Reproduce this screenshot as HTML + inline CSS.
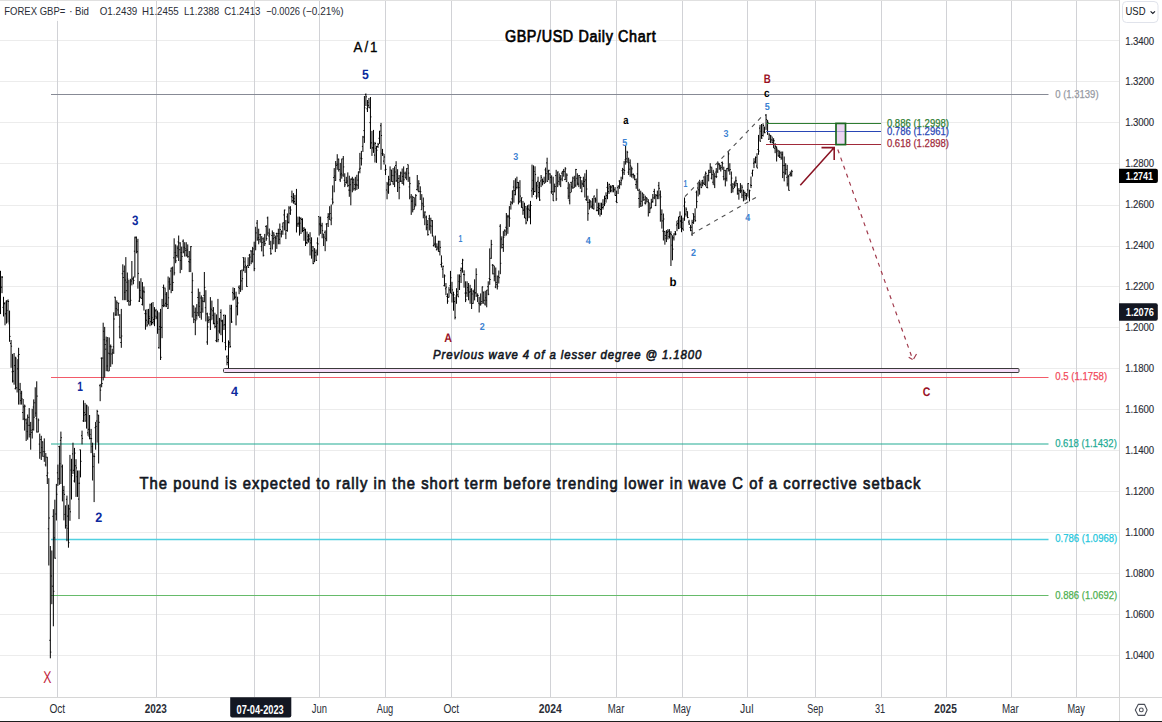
<!DOCTYPE html>
<html><head><meta charset="utf-8"><title>GBP/USD Daily Chart</title>
<style>html,body{margin:0;padding:0;background:#fff;width:1162px;height:722px;overflow:hidden}svg{display:block}text{font-family:"Liberation Sans",sans-serif}</style>
</head><body>
<svg width="1162" height="722" viewBox="0 0 1162 722" font-family='"Liberation Sans", sans-serif'><path d="M0 40.5H1119M0 81.5H1119M0 122.5H1119M0 163.5H1119M0 205.5H1119M0 246.5H1119M0 286.5H1119M0 327.5H1119M0 368.5H1119M0 409.5H1119M0 450.5H1119M0 491.5H1119M0 532.5H1119M0 573.5H1119M0 614.5H1119M0 655.5H1119" stroke="#ececec" stroke-width="1" fill="none"/>
<path d="M57.5 0V697M156.5 0V697M254.5 0V697M319.5 0V697M385.5 0V697M451.5 0V697M550.5 0V697M616.5 0V697M682.5 0V697M747.5 0V697M815.5 0V697M881.5 0V697M946.5 0V697M1011.5 0V697M1076.5 0V697" stroke="#d1d2d6" stroke-width="1" fill="none"/>
<path d="M0 0.5H1119" stroke="#e0e0e0" stroke-width="1"/>
<path d="M51 94.5H1048.5" stroke="#878a95" stroke-width="1.15"/>
<path d="M51 377.5H1048.5" stroke="#f35a69" stroke-width="1.15"/>
<path d="M51 444H1048.5" stroke="#22ab94" stroke-width="1.1"/>
<path d="M51 539.5H1048.5" stroke="#50d0e0" stroke-width="1.5"/>
<path d="M51 595.5H1048.5" stroke="#66bb6a" stroke-width="1.15"/>
<path d="M0.50 270.8V314.1M-0.50 284.8H0.50M0.50 277.3H1.50M2.01 276.0V293.2M1.01 287.2H2.01M2.01 277.2H3.01M3.52 296.8V316.5M2.52 307.4H3.52M3.52 304.0H4.52M5.03 302.0V325.3M4.03 303.4H5.03M5.03 313.8H6.03M6.54 300.3V323.6M5.54 301.2H6.54M6.54 310.4H7.54M8.05 299.4V322.7M7.05 301.0H8.05M8.05 301.5H9.05M9.56 310.6V341.8M8.56 323.8H9.56M9.56 336.4H10.56M11.07 340.0V367.8M10.07 343.4H11.07M11.07 346.2H12.07M12.58 353.9V382.5M11.58 371.8H12.58M12.58 381.0H13.58M14.09 353.0V384.7M13.09 371.3H14.09M14.09 365.6H15.09M15.60 356.7V389.4M14.60 388.7H15.60M15.60 358.2H16.60M17.11 359.1V392.5M16.11 387.8H17.11M17.11 368.8H18.11M18.62 347.8V404.6M17.62 356.0H18.62M18.62 354.5H19.62M20.13 382.9V404.6M19.13 389.6H20.13M20.13 400.6H21.13M21.64 390.8V404.6M20.64 393.3H21.64M21.64 398.8H22.64M23.15 399.0V420.1M22.15 412.5H23.15M23.15 406.9H24.15M24.66 404.6V430.6M23.66 418.8H24.66M24.66 406.2H25.66M26.17 418.5V441.0M25.17 419.8H26.17M26.17 423.1H27.17M27.68 414.5V439.7M26.68 431.6H27.68M27.68 425.3H28.68M29.19 408.1V437.5M28.19 417.3H29.19M29.19 425.3H30.19M30.70 421.9V449.7M29.70 434.5H30.70M30.70 430.2H31.70M32.21 408.7V438.5M31.21 432.4H32.21M32.21 429.5H33.21M33.72 399.4V430.6M32.72 407.0H33.72M33.72 417.3H34.72M35.23 387.3V416.8M34.23 402.8H35.23M35.23 413.1H36.23M36.74 381.3V432.6M35.74 418.7H36.74M36.74 396.1H37.74M38.25 418.5V432.3M37.25 432.0H38.25M38.25 420.1H39.25M39.76 433.6V458.8M38.76 444.1H39.76M39.76 452.7H40.76M41.27 435.8V460.0M40.27 439.5H41.27M41.27 447.6H42.27M42.78 441.3V456.8M41.78 441.9H42.78M42.78 451.7H43.78M44.29 438.4V461.8M43.29 456.3H44.29M44.29 451.8H45.29M45.80 453.0V466.5M44.80 464.8H45.80M45.80 457.2H46.80M47.31 456.8V484.0M46.31 475.7H47.31M47.31 473.0H48.31M48.82 478.2V565.5M47.82 528.8H48.82M48.82 518.0H49.82M50.33 546.0V658.3M49.33 640.3H50.33M50.33 652.1H51.33M51.84 550.5V604.2M50.84 576.0H51.84M51.84 586.2H52.84M53.35 509.2V626.3M52.35 516.3H53.35M53.35 591.3H54.35M54.86 499.7V558.6M53.86 537.8H54.86M54.86 558.2H55.86M56.37 483.9V520.5M55.37 514.0H56.37M56.37 494.3H57.37M57.88 464.6V485.9M56.88 472.8H57.88M57.88 478.8H58.88M59.39 445.7V484.8M58.39 446.6H59.39M59.39 463.7H60.39M60.90 431.6V484.0M59.90 440.4H60.90M60.90 437.7H61.90M62.41 464.6V501.4M61.41 466.8H62.41M62.41 492.9H63.41M63.92 485.9V520.4M62.92 490.4H63.92M63.92 494.4H64.92M65.43 505.3V528.6M64.43 514.4H65.43M65.43 525.6H66.43M66.94 495.6V541.2M65.94 499.3H66.94M66.94 516.1H67.94M68.45 504.7V547.7M67.45 528.3H68.45M68.45 542.7H69.45M69.96 454.9V520.8M68.96 508.9H69.96M69.96 511.8H70.96M71.47 458.8V499.5M70.47 470.1H71.47M71.47 475.7H72.47M72.98 442.7V473.9M71.98 453.9H72.98M72.98 470.3H73.98M74.49 447.9V482.5M73.49 481.0H74.49M74.49 453.1H75.49M76.00 459.2V496.9M75.00 465.8H76.00M76.00 467.9H77.00M77.51 470.5V496.9M76.51 476.7H77.51M77.51 483.3H78.51M79.02 470.4V519.1M78.02 499.1H79.02M79.02 483.2H80.02M80.53 449.7V477.4M79.53 449.8H80.53M80.53 461.3H81.53M82.04 430.6V444.4M81.04 435.7H82.04M82.04 438.4H83.04M83.55 400.3V421.9M82.55 420.9H83.55M83.55 415.2H84.55M85.06 402.9V421.9M84.06 412.7H85.06M85.06 414.6H86.06M86.57 404.6V428.6M85.57 420.8H86.57M86.57 405.9H87.57M88.08 406.4V435.8M87.08 432.8H88.08M88.08 429.3H89.08M89.59 415.0V439.3M88.59 436.3H89.59M89.59 434.4H90.59M91.10 428.9V453.1M90.10 438.4H91.10M91.10 438.6H92.10M92.61 442.7V480.5M91.61 446.6H92.61M92.61 466.7H93.61M94.12 453.1V502.1M93.12 456.2H94.12M94.12 456.4H95.12M95.63 421.9V449.7M94.63 427.7H95.63M95.63 426.4H96.63M97.14 409.8V442.7M96.14 421.0H97.14M97.14 411.5H98.14M98.65 415.0V463.5M97.65 415.0H98.65M98.65 422.3H99.65M100.16 383.9V401.2M99.16 385.7H100.16M100.16 390.2H101.16M101.67 357.4V387.3M100.67 358.2H101.67M101.67 383.5H102.67M103.18 322.7V380.4M102.18 358.1H103.18M103.18 331.3H104.18M104.69 326.9V377.6M103.69 339.7H104.69M104.69 344.5H105.69M106.20 336.6V371.2M105.20 349.2H106.20M106.20 340.9H107.20M107.71 337.0V371.2M106.71 366.0H107.71M107.71 371.0H108.71M109.22 337.5V371.2M108.22 353.2H109.22M109.22 353.8H110.22M110.73 344.5V366.9M109.73 346.4H110.73M110.73 346.8H111.73M112.24 348.7V364.3M111.24 354.0H112.24M112.24 352.8H113.24M113.75 312.3V353.9M112.75 346.8H113.75M113.75 319.0H114.75M115.26 296.8V315.8M114.26 297.2H115.26M115.26 314.9H116.26M116.77 300.4V315.8M115.77 308.5H116.77M116.77 302.7H117.77M118.28 302.8V315.8M117.28 309.9H118.28M118.28 303.2H119.28M119.79 314.1V338.3M118.79 326.9H119.79M119.79 337.8H120.79M121.30 308.9V347.8M120.30 342.5H121.30M121.30 336.0H122.30M122.81 264.3V300.2M121.81 273.7H122.81M122.81 277.5H123.81M124.32 265.5V300.2M123.32 271.3H124.32M124.32 292.3H125.32M125.83 257.1V300.2M124.83 280.1H125.83M125.83 290.7H126.83M127.34 272.5V302.0M126.34 282.2H127.34M127.34 279.1H128.34M128.85 279.9V305.5M127.85 300.7H128.85M128.85 305.1H129.85M130.36 278.8V305.5M129.36 301.6H130.36M130.36 300.3H131.36M131.87 261.0V285.4M130.87 281.0H131.87M131.87 279.1H132.87M133.38 276.5V284.3M132.38 278.3H133.38M133.38 280.5H134.38M134.89 236.6V277.6M133.89 251.2H134.89M134.89 237.8H135.89M136.40 236.6V253.3M135.40 237.1H136.40M136.40 241.3H137.40M137.91 238.8V288.7M136.91 251.7H137.91M137.91 273.4H138.91M139.42 281.2V302.0M138.42 301.1H139.42M139.42 290.5H140.42M140.93 278.2V298.5M139.93 297.2H140.93M140.93 298.3H141.93M142.44 282.1V305.5M141.44 304.4H142.44M142.44 290.6H143.44M143.95 286.5V310.6M142.95 291.8H143.95M143.95 292.0H144.95M145.46 309.7V329.7M144.46 313.6H145.46M145.46 313.8H146.46M146.97 309.2V326.8M145.97 320.2H146.97M146.97 325.0H147.97M148.48 308.9V324.5M147.48 322.0H148.48M148.48 316.4H149.48M149.99 303.7V326.2M148.99 318.4H149.99M149.99 321.7H150.99M151.50 302.8V325.3M150.50 304.8H151.50M151.50 317.7H152.50M153.01 302.0V324.5M152.01 322.5H153.01M153.01 319.6H154.01M154.52 307.1V326.2M153.52 321.4H154.52M154.52 316.2H155.52M156.03 308.9V319.3M155.03 310.8H156.03M156.03 317.1H157.03M157.54 310.6V333.8M156.54 318.3H157.54M157.54 329.2H158.54M159.05 312.3V348.7M158.05 347.7H159.05M159.05 326.7H160.05M160.56 308.9V360.0M159.56 329.4H160.56M160.56 357.3H161.56M162.07 298.9V338.2M161.07 327.4H162.07M162.07 305.6H163.07M163.58 284.6V307.1M162.58 287.5H163.58M163.58 288.0H164.58M165.09 287.6V307.1M164.09 305.2H165.09M165.09 303.3H166.09M166.60 292.1V307.1M165.60 294.3H166.60M166.60 304.5H167.60M168.11 276.5V308.9M167.11 308.3H168.11M168.11 297.8H169.11M169.62 277.6V289.8M168.62 281.9H169.62M169.62 284.3H170.62M171.13 267.7V293.2M170.13 271.0H171.13M171.13 268.1H172.13M172.64 266.6V291.0M171.64 290.3H172.64M172.64 282.5H173.64M174.15 238.3V275.4M173.15 257.8H174.15M174.15 272.9H175.15M175.66 244.4V263.2M174.66 252.6H175.66M175.66 260.8H176.66M177.17 245.5V257.7M176.17 255.6H177.17M177.17 248.1H178.17M178.68 235.5V261.0M177.68 241.9H178.68M178.68 243.0H179.68M180.19 242.2V273.2M179.19 249.7H180.19M180.19 260.4H181.19M181.70 246.6V269.9M180.70 252.6H181.70M181.70 256.4H182.70M183.21 239.4V253.3M182.21 241.2H183.21M183.21 252.0H184.21M184.72 242.2V256.6M183.72 247.3H184.72M184.72 248.8H185.72M186.23 242.2V256.6M185.23 250.6H186.23M186.23 255.2H187.23M187.74 244.4V257.7M186.74 250.0H187.74M187.74 256.6H188.74M189.25 251.0V272.1M188.25 261.6H189.25M189.25 262.2H190.25M190.76 246.1V272.1M189.76 259.7H190.76M190.76 246.6H191.76M192.27 272.5V317.5M191.27 292.3H192.27M192.27 280.7H193.27M193.78 305.8V323.1M192.78 305.9H193.78M193.78 319.6H194.78M195.29 307.5V335.2M194.29 312.3H195.29M195.29 320.6H196.29M196.80 304.1V319.7M195.80 315.4H196.80M196.80 312.8H197.80M198.31 288.5V316.2M197.31 297.5H198.31M198.31 302.9H199.31M199.82 291.8V317.9M198.82 306.3H199.82M199.82 312.3H200.82M201.33 295.4V319.7M200.33 298.0H201.33M201.33 309.0H202.33M202.84 297.1V312.7M201.84 301.0H202.84M202.84 301.4H203.84M204.35 272.0V302.3M203.35 295.4H204.35M204.35 287.4H205.35M205.86 290.2V321.4M204.86 307.7H205.86M205.86 313.9H206.86M207.37 312.7V344.8M206.37 342.0H207.37M207.37 326.9H208.37M208.88 316.2V323.1M207.88 320.4H208.88M208.88 319.7H209.88M210.39 297.1V330.0M209.39 314.0H210.39M210.39 319.9H211.39M211.90 300.6V319.7M210.90 309.2H211.90M211.90 310.8H212.90M213.41 307.1V324.3M212.41 315.3H213.41M213.41 323.3H214.41M214.92 312.7V328.3M213.92 323.6H214.92M214.92 326.4H215.92M216.43 314.4V342.2M215.43 340.6H216.43M216.43 321.6H217.43M217.94 298.9V342.2M216.94 323.1H217.94M217.94 339.7H218.94M219.45 317.9V333.5M218.45 331.0H219.45M219.45 320.0H220.45M220.96 309.3V335.2M219.96 312.5H220.96M220.96 320.8H221.96M222.47 319.7V342.2M221.47 321.3H222.47M222.47 325.1H223.47M223.98 314.4V330.0M222.98 315.5H223.98M223.98 324.8H224.98M225.49 314.8V350.3M224.49 342.6H225.49M225.49 346.6H226.49M227.00 355.3V365.3M226.00 356.8H227.00M227.00 362.5H228.00M228.51 340.4V368.0M227.51 358.6H228.51M228.51 344.3H229.51M230.02 304.8V347.8M229.02 342.8H230.02M230.02 346.4H231.02M231.53 304.8V322.9M230.53 308.8H231.53M231.53 322.0H232.53M233.04 287.4V300.5M232.04 292.6H233.04M233.04 293.8H234.04M234.55 288.0V299.2M233.55 299.1H234.55M234.55 297.3H235.55M236.06 291.7V325.4M235.06 297.1H236.06M236.06 306.2H237.06M237.57 296.7V315.4M236.57 306.3H237.57M237.57 303.0H238.57M239.08 285.5V294.2M238.08 287.2H239.08M239.08 288.3H240.08M240.59 270.3V291.9M239.59 285.9H240.59M240.59 270.7H241.59M242.10 269.4V290.2M241.10 280.9H242.10M242.10 278.6H243.10M243.61 257.3V271.2M242.61 257.6H243.61M243.61 261.9H244.61M245.12 257.3V272.9M244.12 267.0H245.12M245.12 265.3H246.12M246.63 266.0V286.8M245.63 267.3H246.63M246.63 286.5H247.63M248.14 257.3V267.7M247.14 265.5H248.14M248.14 267.4H249.14M249.65 253.9V266.0M248.65 255.2H249.65M249.65 257.1H250.65M251.16 250.4V264.2M250.16 250.9H251.16M251.16 261.2H252.16M252.67 246.9V262.5M251.67 251.1H252.67M252.67 248.9H253.67M254.18 241.7V271.2M253.18 254.2H254.18M254.18 268.6H255.18M255.69 226.8V250.3M254.69 246.1H255.69M255.69 232.9H256.69M257.20 220.0V240.8M256.20 223.1H257.20M257.20 239.1H258.20M258.71 228.7V244.3M257.71 237.6H258.71M258.71 239.6H259.71M260.22 233.9V242.6M259.22 234.7H260.22M260.22 234.4H261.22M261.73 236.1V251.4M260.73 246.6H261.73M261.73 242.6H262.73M263.24 237.4V256.5M262.24 238.8H263.24M263.24 255.3H264.24M264.75 233.9V246.0M263.75 241.6H264.75M264.75 243.6H265.75M266.26 225.2V240.8M265.26 226.5H266.26M266.26 238.6H267.26M267.77 216.6V235.6M266.77 217.9H267.77M267.77 233.0H268.77M269.28 228.5V245.0M268.28 236.0H269.28M269.28 234.1H270.28M270.79 240.8V254.7M269.79 248.5H270.79M270.79 253.7H271.79M272.30 230.4V249.5M271.30 235.5H272.30M272.30 232.9H273.30M273.81 232.2V244.3M272.81 238.6H273.81M273.81 235.1H274.81M275.32 235.6V252.1M274.32 237.4H275.32M275.32 238.3H276.32M276.83 232.7V248.9M275.83 233.5H276.83M276.83 236.0H277.83M278.34 228.7V244.3M277.34 233.6H278.34M278.34 233.5H279.34M279.85 223.5V244.3M278.85 239.3H279.85M279.85 229.5H280.85M281.36 230.4V237.4M280.36 233.9H281.36M281.36 231.6H282.36M282.87 222.6V234.8M281.87 226.8H282.87M282.87 222.8H283.87M284.38 209.7V230.4M283.38 214.9H284.38M284.38 210.0H285.38M285.89 220.0V239.1M284.89 234.0H285.89M285.89 230.5H286.89M287.40 213.4V231.7M286.40 216.9H287.40M287.40 222.1H288.40M288.91 206.2V223.5M287.91 222.4H288.91M288.91 208.0H289.91M290.42 206.2V214.9M289.42 213.3H290.42M290.42 210.0H291.42M291.93 190.6V202.7M290.93 196.6H291.93M291.93 200.7H292.93M293.44 193.1V203.7M292.44 197.3H293.44M293.44 198.5H294.44M294.95 194.9V204.5M293.95 201.5H294.95M294.95 204.3H295.95M296.46 188.9V232.5M295.46 203.8H296.46M296.46 225.2H297.46M297.97 216.6V227.0M296.97 223.9H297.97M297.97 223.2H298.97M299.48 216.6V235.6M298.48 224.3H299.48M299.48 223.2H300.48M300.99 217.4V234.0M299.99 218.3H300.99M300.99 219.5H301.99M302.50 218.3V232.2M301.50 219.3H302.50M302.50 228.6H303.50M304.01 227.0V240.8M303.01 230.5H304.01M304.01 229.3H305.01M305.52 228.7V246.0M304.52 230.2H305.52M305.52 243.3H306.52M307.03 231.6V244.1M306.03 242.5H307.03M307.03 240.0H308.03M308.54 233.9V242.6M307.54 236.4H308.54M308.54 236.0H309.54M310.05 232.2V255.5M309.05 239.0H310.05M310.05 242.9H311.05M311.56 237.3V258.7M310.56 240.7H311.56M311.56 246.8H312.56M313.07 246.0V264.2M312.07 250.8H313.07M313.07 263.5H314.07M314.58 248.1V262.2M313.58 261.8H314.58M314.58 255.8H315.58M316.09 249.5V260.8M315.09 252.3H316.09M316.09 260.4H317.09M317.60 237.4V255.5M316.60 243.0H317.60M317.60 243.9H318.60M319.11 216.6V235.6M318.11 216.6H319.11M319.11 223.9H320.11M320.62 216.6V233.9M319.62 224.8H320.62M320.62 225.3H321.62M322.13 222.8V238.3M321.13 225.9H322.13M322.13 230.6H323.13M323.64 233.9V246.0M322.64 234.0H323.64M323.64 237.1H324.64M325.15 230.4V251.2M324.15 232.3H325.15M325.15 238.7H326.15M326.66 223.3V241.3M325.66 224.1H326.66M326.66 223.7H327.66M328.17 213.1V227.0M327.17 217.3H328.17M328.17 216.3H329.17M329.68 206.2V220.0M328.68 214.3H329.68M329.68 213.5H330.68M331.19 204.5V225.2M330.19 220.0H331.19M331.19 218.1H332.19M332.70 185.4V204.5M331.70 199.1H332.70M332.70 202.2H333.70M334.21 168.1V192.3M333.21 177.5H334.21M334.21 176.0H335.21M335.72 161.0V180.8M334.72 180.5H335.72M335.72 164.0H336.72M337.23 154.2V169.8M336.23 165.5H337.23M337.23 164.2H338.23M338.74 158.6V171.6M337.74 159.2H338.74M338.74 169.5H339.74M340.25 162.9V181.9M339.25 179.8H340.25M340.25 174.8H341.25M341.76 158.6V178.7M340.76 173.4H341.76M341.76 175.0H342.76M343.27 156.0V176.8M342.27 158.9H343.27M343.27 166.9H344.27M344.78 173.3V187.1M343.78 180.3H344.78M344.78 184.8H345.78M346.29 176.8V183.7M345.29 182.4H346.29M346.29 182.5H347.29M347.80 172.4V187.1M346.80 181.0H347.80M347.80 185.5H348.80M349.31 175.7V196.8M348.31 190.1H349.31M349.31 190.3H350.31M350.82 178.5V205.3M349.82 184.7H350.82M350.82 179.3H351.82M352.33 176.8V192.3M351.33 178.9H352.33M352.33 182.4H353.33M353.84 178.5V190.6M352.84 179.8H353.84M353.84 188.6H354.84M355.35 176.8V190.6M354.35 184.5H355.35M355.35 185.5H356.35M356.86 174.8V189.9M355.86 184.3H356.86M356.86 185.1H357.86M358.37 171.6V188.9M357.37 180.1H358.37M358.37 171.7H359.37M359.88 152.9V173.3M358.88 169.2H359.88M359.88 168.2H360.88M361.39 150.9V165.5M360.39 158.2H361.39M361.39 158.7H362.39M362.90 135.9V151.9M361.90 146.4H362.90M362.90 137.0H363.90M364.41 96.0V142.9M363.41 130.6H364.41M364.41 107.8H365.41M365.92 93.5V106.0M364.92 94.4H365.92M365.92 96.8H366.92M367.43 100.0V112.0M366.43 108.8H367.43M367.43 102.5H368.43M368.94 98.0V108.0M367.94 105.4H368.94M368.94 107.8H369.94M370.45 97.0V148.9M369.45 122.6H370.45M370.45 116.9H371.45M371.96 130.9V155.9M370.96 142.9H371.96M371.96 148.0H372.96M373.47 129.9V152.9M372.47 147.5H373.47M373.47 144.1H374.47M374.98 141.9V162.5M373.98 155.1H374.98M374.98 143.5H375.98M376.49 145.9V162.9M375.49 148.4H376.49M376.49 150.2H377.49M378.00 142.9V147.9M377.00 146.6H378.00M378.00 144.4H379.00M379.51 130.9V143.9M378.51 138.3H379.51M379.51 131.1H380.51M381.02 122.9V169.8M380.02 125.7H381.02M381.02 135.5H382.02M382.53 148.9V155.9M381.53 153.6H382.53M382.53 153.7H383.53M384.04 153.9V164.6M383.04 161.1H384.04M384.04 157.0H385.04M385.55 164.6V175.0M384.55 170.0H385.55M385.55 169.4H386.55M387.06 181.9V199.3M386.06 190.0H387.06M387.06 184.0H388.06M388.57 175.8V193.8M387.57 191.9H388.57M388.57 179.4H389.57M390.08 166.4V185.4M389.08 185.0H390.08M390.08 184.2H391.08M391.59 169.8V181.9M390.59 170.0H391.59M391.59 175.4H392.59M393.10 168.0V184.6M392.10 181.6H393.10M393.10 184.1H394.10M394.61 166.4V187.1M393.61 175.7H394.61M394.61 172.0H395.61M396.12 161.2V181.9M395.12 165.5H396.12M396.12 180.8H397.12M397.63 169.2V192.0M396.63 174.0H397.63M397.63 182.4H398.63M399.14 175.0V199.3M398.14 178.4H399.14M399.14 187.7H400.14M400.65 171.6V181.9M399.65 181.4H400.65M400.65 173.0H401.65M402.16 168.5V184.0M401.16 181.2H402.16M402.16 176.4H403.16M403.67 166.4V185.4M402.67 183.3H403.67M403.67 179.8H404.67M405.18 171.6V178.5M404.18 173.2H405.18M405.18 177.8H406.18M406.69 168.1V180.2M405.69 174.0H406.69M406.69 168.4H407.69M408.20 164.6V181.9M407.20 164.7H408.20M408.20 173.1H409.20M409.71 176.8V199.3M408.71 186.9H409.71M409.71 183.6H410.71M411.22 194.1V214.9M410.22 197.0H411.22M411.22 201.3H412.22M412.73 195.8V212.4M411.73 201.0H412.73M412.73 209.7H413.73M414.24 197.5V209.7M413.24 197.5H414.24M414.24 206.7H415.24M415.75 194.1V206.2M414.75 204.3H415.75M415.75 195.6H416.75M417.26 175.0V190.6M416.26 189.5H417.26M417.26 186.1H418.26M418.77 180.2V192.3M417.77 191.1H418.77M418.77 183.7H419.77M420.28 186.3V200.0M419.28 191.4H420.28M420.28 191.7H421.28M421.79 194.1V209.7M420.79 209.7H421.79M421.79 203.3H422.79M423.30 197.5V218.3M422.30 205.0H423.30M423.30 206.4H424.30M424.81 211.4V225.2M423.81 215.2H424.81M424.81 212.1H425.81M426.32 215.6V230.3M425.32 217.1H426.32M426.32 227.8H427.32M427.83 220.0V235.6M426.83 224.5H427.83M427.83 234.6H428.83M429.34 214.9V230.4M428.34 218.8H429.34M429.34 219.0H430.34M430.85 217.7V233.7M429.85 225.9H430.85M430.85 220.7H431.85M432.36 220.0V236.5M431.36 226.2H432.36M432.36 235.8H433.36M433.87 236.3V246.7M432.87 245.5H433.87M433.87 244.7H434.87M435.38 235.6V247.8M434.38 243.3H435.38M435.38 246.7H436.38M436.89 243.3V250.2M435.89 249.8H436.89M436.89 247.1H437.89M438.40 240.8V251.9M437.40 248.8H438.40M438.40 241.3H439.40M439.91 240.8V255.5M438.91 251.6H439.91M439.91 247.4H440.91M441.42 255.4V267.5M440.42 264.5H441.42M441.42 263.2H442.42M442.93 265.7V277.9M441.93 269.2H442.93M442.93 266.3H443.93M444.44 274.4V286.5M443.44 285.6H444.44M444.44 275.9H445.44M445.95 283.0V295.2M444.95 288.8H445.95M445.95 287.2H446.95M447.46 293.4V303.8M446.46 296.5H447.46M447.46 301.1H448.46M448.97 287.1V297.5M447.97 297.3H448.97M448.97 289.9H449.97M450.48 270.9V293.4M449.48 285.7H450.48M450.48 277.7H451.48M451.99 281.8V302.5M450.99 293.3H451.99M451.99 289.9H452.99M453.50 291.7V310.7M452.50 294.9H453.50M453.50 294.8H454.50M455.01 296.9V319.4M454.01 301.6H455.01M455.01 317.3H456.01M456.52 288.2V303.8M455.52 296.0H456.52M456.52 291.6H457.52M458.03 274.4V296.9M457.03 294.8H458.03M458.03 296.8H459.03M459.54 274.4V290.0M458.54 281.4H459.54M459.54 276.6H460.54M461.05 267.5V283.0M460.05 270.5H461.05M461.05 268.9H462.05M462.56 258.8V272.7M461.56 263.6H462.56M462.56 260.1H463.56M464.07 270.3V287.7M463.07 274.5H464.07M464.07 274.8H465.07M465.58 281.3V302.1M464.58 293.1H465.58M465.58 299.8H466.58M467.09 281.3V296.9M466.09 293.0H467.09M467.09 287.7H468.09M468.60 283.0V300.3M467.60 290.2H468.60M468.60 292.1H469.60M470.11 284.8V303.8M469.11 292.0H470.11M470.11 291.2H471.11M471.62 288.2V309.0M470.62 289.5H471.62M471.62 294.0H472.62M473.13 290.0V303.8M472.13 303.4H473.13M473.13 291.7H474.13M474.64 279.3V300.4M473.64 289.9H474.64M474.64 292.6H475.64M476.15 268.3V296.9M475.15 293.0H476.15M476.15 274.5H477.15M477.66 293.4V302.1M476.66 295.8H477.66M477.66 295.6H478.66M479.17 296.9V312.5M478.17 303.1H479.17M479.17 303.9H480.17M480.68 293.4V305.5M479.68 304.9H480.68M480.68 303.7H481.68M482.19 286.5V303.8M481.19 301.6H482.19M482.19 286.9H483.19M483.70 291.7V303.8M482.70 292.1H483.70M483.70 300.3H484.70M485.21 290.8V305.6M484.21 304.0H485.21M485.21 297.8H486.21M486.72 290.0V307.3M485.72 300.2H486.72M486.72 290.0H487.72M488.23 281.3V295.2M487.23 286.7H488.23M488.23 294.2H489.23M489.74 248.4V284.8M488.74 278.5H489.74M489.74 279.5H490.74M491.25 239.8V258.8M490.25 258.3H491.25M491.25 244.5H492.25M492.76 264.0V274.4M491.76 265.1H492.76M492.76 265.6H493.76M494.27 265.7V281.3M493.27 273.8H494.27M494.27 276.3H495.27M495.78 267.5V288.2M494.78 287.0H495.78M495.78 282.4H496.78M497.29 275.5V289.5M496.29 284.6H497.29M497.29 286.2H498.29M498.80 270.5V283.5M497.80 276.4H498.80M498.80 277.7H499.80M500.31 224.2V274.2M499.31 226.2H500.31M500.31 263.3H501.31M501.82 236.3V248.5M500.82 239.1H501.82M501.82 247.5H502.82M503.33 231.1V251.9M502.33 244.5H503.33M503.33 237.4H504.33M504.84 229.4V236.3M503.84 230.3H504.84M504.84 231.1H505.84M506.35 213.0V235.5M505.35 227.3H506.35M506.35 228.7H507.35M507.86 214.8V233.8M506.86 216.9H507.86M507.86 216.1H508.86M509.37 206.1V226.9M508.37 217.0H509.37M509.37 218.2H510.37M510.88 200.9V209.6M509.88 204.3H510.88M510.88 202.8H511.88M512.39 190.6V204.4M511.39 198.9H512.39M512.39 190.7H513.39M513.90 180.2V202.7M512.90 187.0H513.90M513.90 190.6H514.90M515.41 178.3V195.3M514.41 194.6H515.41M515.41 189.2H516.41M516.92 176.7V188.8M515.92 187.4H516.92M516.92 182.5H517.92M518.43 181.9V204.4M517.43 187.2H518.43M518.43 187.5H519.43M519.94 180.2V202.7M518.94 201.8H519.94M519.94 196.1H520.94M521.45 197.5V207.9M520.45 200.7H521.45M521.45 197.7H522.45M522.96 200.9V214.8M521.96 207.8H522.96M522.96 210.3H523.96M524.47 202.7V218.2M523.47 209.2H524.47M524.47 206.7H525.47M525.98 206.1V224.3M524.98 218.2H525.98M525.98 222.9H526.98M527.49 205.3V221.3M526.49 208.9H527.49M527.49 205.8H528.49M529.00 204.4V218.2M528.00 209.1H529.00M529.00 210.2H530.00M530.51 200.9V224.3M529.51 216.9H530.51M530.51 205.5H531.51M532.02 164.6V197.5M531.02 190.8H532.02M532.02 188.9H533.02M533.53 165.4V195.0M532.53 180.3H533.53M533.53 171.5H534.53M535.04 166.3V192.3M534.04 191.5H535.04M535.04 174.4H536.04M536.55 181.9V199.2M535.55 196.1H536.55M536.55 185.9H537.55M538.06 176.7V197.5M537.06 181.3H538.06M538.06 192.5H539.06M539.57 181.9V200.9M538.57 187.5H539.57M539.57 200.0H540.57M541.08 175.0V187.1M540.08 181.0H541.08M541.08 177.3H542.08M542.59 178.5V185.4M541.59 180.0H542.59M542.59 181.4H543.59M544.10 176.7V183.6M543.10 181.3H544.10M544.10 183.2H545.10M545.61 167.6V182.8M544.61 169.9H545.61M545.61 173.6H546.61M547.12 157.7V181.9M546.12 162.9H547.12M547.12 181.3H548.12M548.63 169.8V180.2M547.63 171.3H548.63M548.63 170.3H549.63M550.14 173.3V183.6M549.14 173.9H550.14M550.14 177.4H551.14M551.65 175.3V193.8M550.65 191.9H551.65M551.65 191.6H552.65M553.16 176.7V200.9M552.16 194.4H553.16M553.16 200.8H554.16M554.67 183.6V192.3M553.67 191.7H554.67M554.67 186.5H555.67M556.18 169.8V200.9M555.18 175.6H556.18M556.18 198.9H557.18M557.69 171.5V187.1M556.69 183.1H557.69M557.69 172.0H558.69M559.20 173.3V185.4M558.20 181.3H559.20M559.20 177.9H560.20M560.71 175.0V187.1M559.71 179.5H560.71M560.71 179.0H561.71M562.22 171.5V181.2M561.22 173.2H562.22M562.22 171.6H563.22M563.73 168.9V176.7M562.73 171.1H563.73M563.73 171.6H564.73M565.24 167.2V180.2M564.24 179.6H565.24M565.24 168.8H566.24M566.75 173.3V181.9M565.75 181.6H566.75M566.75 175.1H567.75M568.26 181.9V199.2M567.26 188.1H568.26M568.26 196.1H569.26M569.77 183.6V204.4M568.77 200.7H569.77M569.77 192.6H570.77M571.28 181.9V192.3M570.28 182.4H571.28M571.28 186.8H572.28M572.79 176.7V188.8M571.79 181.2H572.79M572.79 187.8H573.79M574.30 175.8V187.9M573.30 178.1H574.30M574.30 180.2H575.30M575.81 168.9V187.1M574.81 185.2H575.81M575.81 169.5H576.81M577.32 173.3V185.4M576.32 178.3H577.32M577.32 183.1H578.32M578.83 175.0V187.1M577.83 184.2H578.83M578.83 175.5H579.83M580.34 176.7V188.8M579.34 177.1H580.34M580.34 177.5H581.34M581.85 180.2V192.3M580.85 191.3H581.85M581.85 183.3H582.85M583.36 176.7V187.1M582.36 184.5H583.36M583.36 186.0H584.36M584.87 173.3V197.5M583.87 181.5H584.87M584.87 179.9H585.87M586.38 169.8V200.9M585.38 199.6H586.38M586.38 189.0H587.38M587.89 195.7V220.8M586.89 202.3H587.89M587.89 213.7H588.89M589.40 199.2V209.6M588.40 202.5H589.40M589.40 202.1H590.40M590.91 200.9V207.9M589.91 200.9H590.91M590.91 206.2H591.91M592.42 198.1V208.8M591.42 207.9H592.42M592.42 204.9H593.42M593.93 195.7V209.6M592.93 208.8H593.93M593.93 196.0H594.93M595.44 197.5V202.7M594.44 198.7H595.44M595.44 200.0H596.44M596.95 188.8V211.3M595.95 210.3H596.95M596.95 210.3H597.95M598.46 202.7V214.8M597.46 207.4H598.46M598.46 205.7H599.46M599.97 202.7V216.5M598.97 208.6H599.97M599.97 209.5H600.97M601.48 202.7V214.8M600.48 213.9H601.48M601.48 204.9H602.48M602.99 199.2V209.6M601.99 207.5H602.99M602.99 206.9H603.99M604.50 195.7V206.1M603.50 204.3H604.50M604.50 203.7H605.50M606.01 192.3V202.7M605.01 198.6H606.01M606.01 195.7H607.01M607.52 181.9V199.2M606.52 187.4H607.52M607.52 188.2H608.52M609.03 183.6V194.0M608.03 191.7H609.03M609.03 184.4H610.03M610.54 185.4V192.3M609.54 186.8H610.54M610.54 190.6H611.54M612.05 185.4V192.3M611.05 187.1H612.05M612.05 185.8H613.05M613.56 185.4V192.3M612.56 185.6H613.56M613.56 189.2H614.56M615.07 187.1V195.7M614.07 189.9H615.07M615.07 195.5H616.07M616.58 190.6V202.7M615.58 201.3H616.58M616.58 202.6H617.58M618.09 185.4V194.0M617.09 187.7H618.09M618.09 186.1H619.09M619.60 180.2V188.8M618.60 181.0H619.60M619.60 184.5H620.60M621.11 176.7V185.4M620.11 182.9H621.11M621.11 180.6H622.11M622.62 167.9V179.5M621.62 170.6H622.62M622.62 172.7H623.62M624.13 161.1V175.0M623.13 169.7H624.13M624.13 170.5H625.13M625.64 145.6V164.6M624.64 159.8H625.64M625.64 161.7H626.64M627.15 150.8V162.9M626.15 158.8H627.15M627.15 152.3H628.15M628.66 157.7V175.0M627.66 172.2H628.66M628.66 162.8H629.66M630.17 159.4V176.7M629.17 169.2H630.17M630.17 165.9H631.17M631.68 166.6V177.6M630.68 174.7H631.68M631.68 168.8H632.68M633.19 173.3V178.5M632.19 174.6H633.19M633.19 174.6H634.19M634.70 175.0V180.2M633.70 175.8H634.70M634.70 179.6H635.70M636.21 178.5V188.8M635.21 184.5H636.21M636.21 181.9H637.21M637.72 162.9V190.6M636.72 173.9H637.72M637.72 190.4H638.72M639.23 188.8V207.9M638.23 198.5H639.23M639.23 193.2H640.23M640.74 190.7V206.9M639.74 203.8H640.74M640.74 201.3H641.74M642.25 192.3V206.1M641.25 206.0H642.25M642.25 193.7H643.25M643.76 194.0V200.9M642.76 197.3H643.76M643.76 199.7H644.76M645.27 195.7V204.4M644.27 203.0H645.27M645.27 203.7H646.27M646.78 197.5V202.7M645.78 197.7H646.78M646.78 199.0H647.78M648.29 199.2V216.5M647.29 201.3H648.29M648.29 202.5H649.29M649.80 202.7V213.0M648.80 212.7H649.80M649.80 208.7H650.80M651.31 198.8V208.4M650.31 207.7H651.31M651.31 202.4H652.31M652.82 194.0V202.7M651.82 201.5H652.82M652.82 197.9H653.82M654.33 188.8V199.2M653.33 191.5H654.33M654.33 196.9H655.33M655.84 194.0V206.1M654.84 205.4H655.84M655.84 195.3H656.84M657.35 190.6V199.2M656.35 195.7H657.35M657.35 195.9H658.35M658.86 181.9V199.2M657.86 185.7H658.86M658.86 188.3H659.86M660.37 190.5V221.7M659.37 194.9H660.37M660.37 196.9H661.37M661.88 209.4V228.6M660.88 214.3H661.88M661.88 220.9H662.88M663.39 213.5V240.5M662.39 231.1H663.39M663.39 219.0H664.39M664.90 231.2V244.7M663.90 231.4H664.90M664.90 235.6H665.90M666.41 230.1V242.1M665.41 238.2H666.41M666.41 232.3H667.41M667.92 229.1V239.5M666.92 232.3H667.92M667.92 231.2H668.92M669.43 229.1V238.5M668.43 236.6H669.43M669.43 234.3H670.43M670.94 231.2V266.0M669.94 233.4H670.94M670.94 234.7H671.94M672.45 235.3V260.3M671.45 245.2H672.45M672.45 249.1H673.45M673.96 233.3V240.5M672.96 237.9H673.96M673.96 234.0H674.96M675.47 231.2V235.3M674.47 231.9H675.47M675.47 234.1H676.47M676.98 220.8V231.2M675.98 225.1H676.98M676.98 223.7H677.98M678.49 216.6V229.1M677.49 220.4H678.49M678.49 228.5H679.49M680.00 211.4V228.1M679.00 216.6H680.00M680.00 220.9H681.00M681.51 215.6V232.2M680.51 221.5H681.51M681.51 222.5H682.51M683.02 217.7V230.1M682.02 228.4H683.02M683.02 230.1H684.02M684.53 197.5V220.8M683.53 206.0H684.53M684.53 202.1H685.53M686.04 207.3V216.6M685.04 214.1H686.04M686.04 209.2H687.04M687.55 211.4V218.2M686.55 211.4H687.55M687.55 217.5H688.55M689.06 219.8V224.9M688.06 222.0H689.06M689.06 224.0H690.06M690.57 224.9V231.2M689.57 227.5H690.57M690.57 230.5H691.57M692.08 219.8V235.9M691.08 227.2H692.08M692.08 222.4H693.08M693.59 213.5V223.9M692.59 213.7H693.59M693.59 219.2H694.59M695.10 208.3V221.8M694.10 216.9H695.10M695.10 220.6H696.10M696.61 190.6V208.3M695.61 192.2H696.61M696.61 201.6H697.61M698.12 183.1V196.4M697.12 188.0H698.12M698.12 189.8H699.12M699.63 179.8V194.7M698.63 182.0H699.63M699.63 184.0H700.63M701.14 181.4V188.1M700.14 184.9H701.14M701.14 187.6H702.14M702.65 179.8V186.4M701.65 180.5H702.65M702.65 183.0H703.65M704.16 176.5V184.8M703.16 183.2H704.16M704.16 184.5H705.16M705.67 171.5V186.4M704.67 174.4H705.67M705.67 173.4H706.67M707.18 174.8V188.1M706.18 187.3H707.18M707.18 187.8H708.18M708.69 169.8V181.4M707.69 175.4H708.69M708.69 170.4H709.69M710.20 163.2V173.1M709.20 172.4H710.20M710.20 167.0H711.20M711.71 166.7V179.4M710.71 178.2H711.71M711.71 174.6H712.71M713.22 169.8V184.8M712.22 182.2H713.22M713.22 172.2H714.22M714.73 173.1V188.1M713.73 184.9H714.73M714.73 176.4H715.73M716.24 168.1V178.1M715.24 172.1H716.24M716.24 176.6H717.24M717.75 161.5V173.1M716.75 171.1H717.75M717.75 163.6H718.75M719.26 163.2V169.8M718.26 164.6H719.26M719.26 165.8H720.26M720.77 164.8V171.5M719.77 168.3H720.77M720.77 167.4H721.77M722.28 161.5V169.8M721.28 162.5H722.28M722.28 163.6H723.28M723.79 166.7V180.3M722.79 176.6H723.79M723.79 178.9H724.79M725.30 169.8V186.4M724.30 170.5H725.30M725.30 179.1H726.30M726.81 168.1V181.4M725.81 178.2H726.81M726.81 168.6H727.81M728.32 151.5V171.5M727.32 168.3H728.32M728.32 153.9H729.32M729.83 163.2V174.8M728.83 170.2H729.83M729.83 169.6H730.83M731.34 171.5V193.1M730.34 185.0H731.34M731.34 178.1H732.34M732.85 183.1V192.5M731.85 187.0H732.85M732.85 188.6H733.85M734.36 181.4V188.1M733.36 184.3H734.36M734.36 185.8H735.36M735.87 176.5V186.4M734.87 180.9H735.87M735.87 180.8H736.87M737.38 183.1V194.7M736.38 183.4H737.38M737.38 190.3H738.38M738.89 188.1V199.7M737.89 193.8H738.89M738.89 190.8H739.89M740.40 183.1V193.1M739.40 190.7H740.40M740.40 190.9H741.40M741.91 184.8V198.1M740.91 190.9H741.91M741.91 187.2H742.91M743.42 189.7V201.4M742.42 195.2H743.42M743.42 191.0H744.42M744.93 191.6V200.5M743.93 192.7H744.93M744.93 195.4H745.93M746.44 193.1V199.7M745.44 193.7H746.44M746.44 196.0H747.44M747.95 183.1V196.4M746.95 189.9H747.95M747.95 183.6H748.95M749.46 189.7V201.4M748.46 197.1H749.46M749.46 190.7H750.46M750.97 176.5V188.1M749.97 185.0H750.97M750.97 185.5H751.97M752.48 169.8V176.5M751.48 173.2H752.48M752.48 170.2H753.48M753.99 158.2V168.1M752.99 163.2H753.99M753.99 161.9H754.99M755.50 156.5V163.2M754.50 162.9H755.50M755.50 157.4H756.50M757.01 153.2V168.1M756.01 166.0H757.01M757.01 168.0H758.01M758.52 134.9V154.8M757.52 149.5H758.52M758.52 151.1H759.52M760.03 124.9V141.5M759.03 128.1H760.03M760.03 141.2H761.03M761.54 124.0V138.8M760.54 131.3H761.54M761.54 138.1H762.54M763.05 123.3V136.6M762.05 135.5H763.05M763.05 125.5H764.05M764.56 126.6V133.2M763.56 131.8H764.56M764.56 132.7H765.56M766.07 114.1V129.9M765.07 115.1H766.07M766.07 119.6H767.07M767.58 119.9V134.9M766.58 131.2H767.58M767.58 122.3H768.58M769.09 133.2V139.9M768.09 139.2H769.09M769.09 135.0H770.09M770.60 134.9V143.2M769.60 141.7H770.60M770.60 136.1H771.60M772.11 136.6V143.2M771.11 139.9H772.11M772.11 142.7H773.11M773.62 138.2V148.2M772.62 140.3H773.62M773.62 140.8H774.62M775.13 143.2V153.2M774.13 148.3H775.13M775.13 146.4H776.13M776.64 146.5V161.5M775.64 147.1H776.64M776.64 149.2H777.64M778.15 149.9V156.5M777.15 151.0H778.15M778.15 156.1H779.15M779.66 150.6V158.0M778.66 155.6H779.66M779.66 157.2H780.66M781.17 151.5V159.8M780.17 152.9H781.17M781.17 158.0H782.17M782.68 151.5V178.1M781.68 154.6H782.68M782.68 165.6H783.68M784.19 156.5V181.4M783.19 172.3H784.19M784.19 165.5H785.19M785.70 163.2V174.8M784.70 173.3H785.70M785.70 169.6H786.70M787.21 164.8V186.4M786.21 177.3H787.21M787.21 183.9H788.21M788.72 174.8V190.5M787.72 176.4H788.72M788.72 190.4H789.72M790.23 171.5V176.5M789.23 174.6H790.23M790.23 173.5H791.23M791.74 169.8V176.5M790.74 175.1H791.74M791.74 171.6H792.74" stroke="#000" stroke-width="1" fill="none"/>
<rect x="223.5" y="368.5" width="795.5" height="4" rx="1" fill="#f5dcf8" stroke="#3a3a3a" stroke-width="1"/>
<path d="M766.5 123.5H881" stroke="#2e7d32" stroke-width="1"/>
<path d="M766.5 131.5H881" stroke="#2946b5" stroke-width="1"/>
<path d="M766 144.5H881" stroke="#a12a3a" stroke-width="1"/>
<rect x="836" y="123.4" width="9.5" height="21.2" fill="#e6c4ec" fill-opacity="0.7" stroke="#1b6820" stroke-width="1.7"/>
<path d="M684.9 196.7L763.4 114.9" stroke="#505050" stroke-width="1.1" stroke-dasharray="4.2 4.6" fill="none"/>
<path d="M691.2 234.5L757.7 196.4" stroke="#505050" stroke-width="1.1" stroke-dasharray="4.2 4.6" fill="none"/>
<path d="M800.3 185.3L834.2 147.6M821.5 147.6H834.2V160" stroke="#8a1424" stroke-width="1.55" fill="none" stroke-linecap="butt"/>
<path d="M837.8 149.5L912.6 359.2" stroke="#a13a4c" stroke-width="1.2" stroke-dasharray="4 4.6" fill="none"/>
<path d="M908.7 357.2L912.6 359.4M916.5 354.0L913.6 359.0" stroke="#a13a4c" stroke-width="1.2" fill="none"/>
<rect x="0" y="1" width="93" height="20" fill="#fff" fill-opacity="0.88"/>
<text x="4.30" y="14.60" font-size="11" fill="#2a2d36" textLength="61.00" lengthAdjust="spacingAndGlyphs" >FOREX GBP=</text>
<text x="68.90" y="14.60" font-size="11" fill="#2a2d36" >·</text>
<text x="75.00" y="14.60" font-size="11" fill="#2a2d36" textLength="14.00" lengthAdjust="spacingAndGlyphs" >Bid</text>
<text x="99.70" y="14.60" font-size="11" fill="#2a2d36" textLength="37.60" lengthAdjust="spacingAndGlyphs" >O1.2439</text>
<text x="142.00" y="14.60" font-size="11" fill="#2a2d36" textLength="36.70" lengthAdjust="spacingAndGlyphs" >H1.2455</text>
<text x="183.90" y="14.60" font-size="11" fill="#2a2d36" textLength="35.30" lengthAdjust="spacingAndGlyphs" >L1.2388</text>
<text x="224.20" y="14.60" font-size="11" fill="#2a2d36" textLength="36.10" lengthAdjust="spacingAndGlyphs" >C1.2413</text>
<text x="266.20" y="14.60" font-size="11" fill="#2a2d36" textLength="33.80" lengthAdjust="spacingAndGlyphs" >−0.0026</text>
<text x="302.60" y="14.60" font-size="11" fill="#2a2d36" textLength="41.00" lengthAdjust="spacingAndGlyphs" >(−0.21%)</text>
<text transform="translate(504.90 42.10) scale(0.88 1)" x="0" y="0" font-size="16.3" fill="#000" textLength="171.36" lengthAdjust="spacing" stroke="#000" stroke-width="0.7">GBP/USD Daily Chart</text>
<text transform="translate(353.50 52.30) scale(0.86 1)" x="0" y="0" font-size="15.5" fill="#000" textLength="27.91" lengthAdjust="spacing" stroke="#000" stroke-width="0.35">A/1</text>
<text style="text-rendering:geometricPrecision" transform="translate(365.50 78.80) scale(0.9 1.0)" x="0" y="0" font-size="13.6" fill="#0d2a9e" font-weight="bold" text-anchor="middle">5</text>
<text style="text-rendering:geometricPrecision" transform="translate(135.20 225.00) scale(0.85 1.0)" x="0" y="0" font-size="13.6" fill="#0d2a9e" font-weight="bold" text-anchor="middle">3</text>
<text style="text-rendering:geometricPrecision" transform="translate(80.10 391.30) scale(0.75 1.0)" x="0" y="0" font-size="13.6" fill="#0d2a9e" font-weight="bold" text-anchor="middle">1</text>
<text style="text-rendering:geometricPrecision" transform="translate(98.80 521.90) scale(0.93 1.0)" x="0" y="0" font-size="13.6" fill="#0d2a9e" font-weight="bold" text-anchor="middle">2</text>
<text style="text-rendering:geometricPrecision" transform="translate(234.60 395.80) scale(0.93 1.0)" x="0" y="0" font-size="13.6" fill="#0d2a9e" font-weight="bold" text-anchor="middle">4</text>
<text style="text-rendering:geometricPrecision" transform="translate(460.50 242.30) scale(0.68 1.0)" x="0" y="0" font-size="10.2" fill="#3c82d2" font-weight="bold" text-anchor="middle">1</text>
<text style="text-rendering:geometricPrecision" transform="translate(482.20 329.90) scale(0.88 1.0)" x="0" y="0" font-size="10.2" fill="#3c82d2" font-weight="bold" text-anchor="middle">2</text>
<text style="text-rendering:geometricPrecision" transform="translate(515.80 160.30) scale(0.88 1.0)" x="0" y="0" font-size="10.2" fill="#3c82d2" font-weight="bold" text-anchor="middle">3</text>
<text style="text-rendering:geometricPrecision" transform="translate(588.30 243.50) scale(0.88 1.0)" x="0" y="0" font-size="10.2" fill="#3c82d2" font-weight="bold" text-anchor="middle">4</text>
<text style="text-rendering:geometricPrecision" transform="translate(624.80 145.80) scale(0.88 1.0)" x="0" y="0" font-size="10.2" fill="#3c82d2" font-weight="bold" text-anchor="middle">5</text>
<text style="text-rendering:geometricPrecision" transform="translate(685.40 186.50) scale(0.68 1.0)" x="0" y="0" font-size="10.2" fill="#3c82d2" font-weight="bold" text-anchor="middle">1</text>
<text style="text-rendering:geometricPrecision" transform="translate(693.40 255.70) scale(0.88 1.0)" x="0" y="0" font-size="10.2" fill="#3c82d2" font-weight="bold" text-anchor="middle">2</text>
<text style="text-rendering:geometricPrecision" transform="translate(726.00 137.10) scale(0.88 1.0)" x="0" y="0" font-size="10.2" fill="#3c82d2" font-weight="bold" text-anchor="middle">3</text>
<text style="text-rendering:geometricPrecision" transform="translate(747.70 220.80) scale(0.88 1.0)" x="0" y="0" font-size="10.2" fill="#3c82d2" font-weight="bold" text-anchor="middle">4</text>
<text style="text-rendering:geometricPrecision" transform="translate(767.20 110.20) scale(0.88 1.0)" x="0" y="0" font-size="10.2" fill="#3c82d2" font-weight="bold" text-anchor="middle">5</text>
<text style="text-rendering:geometricPrecision" transform="translate(625.90 124.30) scale(0.8 1.0)" x="0" y="0" font-size="11.8" fill="#000" font-weight="bold" text-anchor="middle">a</text>
<text style="text-rendering:geometricPrecision" transform="translate(673.10 285.90) scale(0.94 1.0)" x="0" y="0" font-size="12.2" fill="#000" font-weight="bold" text-anchor="middle">b</text>
<text style="text-rendering:geometricPrecision" transform="translate(766.70 96.80) scale(0.85 1.0)" x="0" y="0" font-size="11.8" fill="#000" font-weight="bold" text-anchor="middle">c</text>
<text style="text-rendering:geometricPrecision" transform="translate(448.00 341.80) scale(0.86 1.0)" x="0" y="0" font-size="12.4" fill="#991024" font-weight="bold" text-anchor="middle">A</text>
<text style="text-rendering:geometricPrecision" transform="translate(767.30 82.80) scale(0.78 1.0)" x="0" y="0" font-size="12.4" fill="#991024" font-weight="bold" text-anchor="middle">B</text>
<text style="text-rendering:geometricPrecision" transform="translate(926.50 395.70) scale(0.85 1.0)" x="0" y="0" font-size="12.4" fill="#991024" font-weight="bold" text-anchor="middle">C</text>
<text style="text-rendering:geometricPrecision" transform="translate(47.30 682.90) scale(0.71 1.0)" x="0" y="0" font-size="17.2" fill="#c2243a" font-weight="normal" text-anchor="middle">X</text>
<text transform="translate(433.00 358.70) scale(0.88 1)" x="0" y="0" font-size="13" fill="#131722" textLength="305.00" lengthAdjust="spacing" font-style="italic" stroke="#131722" stroke-width="0.6">Previous wave 4 of a lesser degree @ 1.1800</text>
<text transform="translate(139.50 488.60) scale(0.88 1)" x="0" y="0" font-size="16.8" fill="#131722" textLength="887.27" lengthAdjust="spacing" stroke="#131722" stroke-width="0.7">The pound is expected to rally in the short term before trending lower in wave C of a corrective setback</text>
<text x="1055.20" y="98.10" font-size="11.5" fill="#9598a1" textLength="43.40" lengthAdjust="spacingAndGlyphs" stroke="#9598a1" stroke-width="0.25">0 (1.3139)</text>
<text x="1055.30" y="380.40" font-size="11.5" fill="#f24a5b" textLength="51.80" lengthAdjust="spacingAndGlyphs" stroke="#f24a5b" stroke-width="0.25">0.5 (1.1758)</text>
<text x="1055.20" y="446.70" font-size="11.5" fill="#22ab94" textLength="61.60" lengthAdjust="spacingAndGlyphs" stroke="#22ab94" stroke-width="0.25">0.618 (1.1432)</text>
<text x="1055.30" y="541.60" font-size="11.5" fill="#22c6dc" textLength="61.90" lengthAdjust="spacingAndGlyphs" stroke="#22c6dc" stroke-width="0.25">0.786 (1.0968)</text>
<text x="1055.30" y="598.60" font-size="11.5" fill="#4caf50" textLength="61.90" lengthAdjust="spacingAndGlyphs" stroke="#4caf50" stroke-width="0.25">0.886 (1.0692)</text>
<text x="886.90" y="126.70" font-size="11.5" fill="#2e7d32" textLength="62.10" lengthAdjust="spacingAndGlyphs" stroke="#2e7d32" stroke-width="0.25">0.886 (1.2998)</text>
<text x="886.90" y="134.80" font-size="11.5" fill="#2946b5" textLength="62.10" lengthAdjust="spacingAndGlyphs" stroke="#2946b5" stroke-width="0.25">0.786 (1.2961)</text>
<text x="886.90" y="147.20" font-size="11.5" fill="#a12a3a" textLength="62.10" lengthAdjust="spacingAndGlyphs" stroke="#a12a3a" stroke-width="0.25">0.618 (1.2898)</text>
<rect x="1119" y="0" width="43" height="722" fill="#fff"/>
<path d="M1119.5 0V721" stroke="#d6d6d6" stroke-width="1"/>
<text transform="translate(1125.30 44.50) scale(0.86 1)" x="0" y="0" font-size="11.2" fill="#2a2d36" textLength="33.37" lengthAdjust="spacing" stroke="#2a2d36" stroke-width="0.15">1.3400</text>
<text transform="translate(1125.30 85.49) scale(0.86 1)" x="0" y="0" font-size="11.2" fill="#2a2d36" textLength="33.37" lengthAdjust="spacing" stroke="#2a2d36" stroke-width="0.15">1.3200</text>
<text transform="translate(1125.30 126.48) scale(0.86 1)" x="0" y="0" font-size="11.2" fill="#2a2d36" textLength="33.37" lengthAdjust="spacing" stroke="#2a2d36" stroke-width="0.15">1.3000</text>
<text transform="translate(1125.30 167.47) scale(0.86 1)" x="0" y="0" font-size="11.2" fill="#2a2d36" textLength="33.37" lengthAdjust="spacing" stroke="#2a2d36" stroke-width="0.15">1.2800</text>
<text transform="translate(1125.30 208.46) scale(0.86 1)" x="0" y="0" font-size="11.2" fill="#2a2d36" textLength="33.37" lengthAdjust="spacing" stroke="#2a2d36" stroke-width="0.15">1.2600</text>
<text transform="translate(1125.30 249.45) scale(0.86 1)" x="0" y="0" font-size="11.2" fill="#2a2d36" textLength="33.37" lengthAdjust="spacing" stroke="#2a2d36" stroke-width="0.15">1.2400</text>
<text transform="translate(1125.30 290.44) scale(0.86 1)" x="0" y="0" font-size="11.2" fill="#2a2d36" textLength="33.37" lengthAdjust="spacing" stroke="#2a2d36" stroke-width="0.15">1.2200</text>
<text transform="translate(1125.30 331.43) scale(0.86 1)" x="0" y="0" font-size="11.2" fill="#2a2d36" textLength="33.37" lengthAdjust="spacing" stroke="#2a2d36" stroke-width="0.15">1.2000</text>
<text transform="translate(1125.30 372.42) scale(0.86 1)" x="0" y="0" font-size="11.2" fill="#2a2d36" textLength="33.37" lengthAdjust="spacing" stroke="#2a2d36" stroke-width="0.15">1.1800</text>
<text transform="translate(1125.30 413.41) scale(0.86 1)" x="0" y="0" font-size="11.2" fill="#2a2d36" textLength="33.37" lengthAdjust="spacing" stroke="#2a2d36" stroke-width="0.15">1.1600</text>
<text transform="translate(1125.30 454.40) scale(0.86 1)" x="0" y="0" font-size="11.2" fill="#2a2d36" textLength="33.37" lengthAdjust="spacing" stroke="#2a2d36" stroke-width="0.15">1.1400</text>
<text transform="translate(1125.30 495.39) scale(0.86 1)" x="0" y="0" font-size="11.2" fill="#2a2d36" textLength="33.37" lengthAdjust="spacing" stroke="#2a2d36" stroke-width="0.15">1.1200</text>
<text transform="translate(1125.30 536.38) scale(0.86 1)" x="0" y="0" font-size="11.2" fill="#2a2d36" textLength="33.37" lengthAdjust="spacing" stroke="#2a2d36" stroke-width="0.15">1.1000</text>
<text transform="translate(1125.30 577.37) scale(0.86 1)" x="0" y="0" font-size="11.2" fill="#2a2d36" textLength="33.37" lengthAdjust="spacing" stroke="#2a2d36" stroke-width="0.15">1.0800</text>
<text transform="translate(1125.30 618.36) scale(0.86 1)" x="0" y="0" font-size="11.2" fill="#2a2d36" textLength="33.37" lengthAdjust="spacing" stroke="#2a2d36" stroke-width="0.15">1.0600</text>
<text transform="translate(1125.30 659.35) scale(0.86 1)" x="0" y="0" font-size="11.2" fill="#2a2d36" textLength="33.37" lengthAdjust="spacing" stroke="#2a2d36" stroke-width="0.15">1.0400</text>
<rect x="1122.5" y="1.5" width="35.5" height="21" rx="4" fill="#fff" stroke="#e0e3eb" stroke-width="1"/>
<text x="1125.50" y="15.40" font-size="11.5" fill="#131722" textLength="20.00" lengthAdjust="spacingAndGlyphs" >USD</text>
<path d="M1150.6 11.3L1152.8 13.5L1155 11.3" stroke="#131722" stroke-width="1.1" fill="none"/>
<path d="M1119 168.8H1155.9A2 2 0 0 1 1157.9 170.8V181A2 2 0 0 1 1155.9 183H1119Z" fill="#000"/>
<text x="1125.70" y="179.90" font-size="11.3" fill="#fff" font-weight="bold" textLength="27.30" lengthAdjust="spacingAndGlyphs" >1.2741</text>
<path d="M1119 303.2H1155.8A2 2 0 0 1 1157.8 305.2V318.8A2 2 0 0 1 1155.8 320.8H1119Z" fill="#131722"/>
<text x="1125.80" y="316.10" font-size="11.3" fill="#fff" font-weight="bold" textLength="28.20" lengthAdjust="spacingAndGlyphs" >1.2076</text>
<rect x="0" y="697" width="1162" height="25" fill="#fff"/>
<path d="M0 697.5H1162" stroke="#d6d6d6" stroke-width="1"/>
<path d="M1119.5 697V721" stroke="#d6d6d6" stroke-width="1"/>
<text x="49.40" y="712.90" font-size="12" fill="#2a2d36" textLength="15.80" lengthAdjust="spacingAndGlyphs" >Oct</text>
<text x="144.70" y="712.90" font-size="12" fill="#2a2d36" font-weight="bold" textLength="22.20" lengthAdjust="spacingAndGlyphs" >2023</text>
<text x="311.80" y="712.90" font-size="12" fill="#2a2d36" textLength="15.20" lengthAdjust="spacingAndGlyphs" >Jun</text>
<text x="376.75" y="712.90" font-size="12" fill="#2a2d36" textLength="16.50" lengthAdjust="spacingAndGlyphs" >Aug</text>
<text x="443.40" y="712.90" font-size="12" fill="#2a2d36" textLength="15.80" lengthAdjust="spacingAndGlyphs" >Oct</text>
<text x="538.70" y="712.90" font-size="12" fill="#2a2d36" font-weight="bold" textLength="23.00" lengthAdjust="spacingAndGlyphs" >2024</text>
<text x="607.85" y="712.90" font-size="12" fill="#2a2d36" textLength="16.50" lengthAdjust="spacingAndGlyphs" >Mar</text>
<text x="673.05" y="712.90" font-size="12" fill="#2a2d36" textLength="17.70" lengthAdjust="spacingAndGlyphs" >May</text>
<text x="740.10" y="712.90" font-size="12" fill="#2a2d36" textLength="13.40" lengthAdjust="spacingAndGlyphs" >Jul</text>
<text x="807.20" y="712.90" font-size="12" fill="#2a2d36" textLength="16.00" lengthAdjust="spacingAndGlyphs" >Sep</text>
<text x="874.95" y="712.90" font-size="12" fill="#2a2d36" textLength="10.30" lengthAdjust="spacingAndGlyphs" >31</text>
<text x="934.35" y="712.90" font-size="12" fill="#2a2d36" font-weight="bold" textLength="22.50" lengthAdjust="spacingAndGlyphs" >2025</text>
<text x="1002.00" y="712.90" font-size="12" fill="#2a2d36" textLength="16.80" lengthAdjust="spacingAndGlyphs" >Mar</text>
<text x="1067.40" y="712.90" font-size="12" fill="#2a2d36" textLength="17.40" lengthAdjust="spacingAndGlyphs" >May</text>
<path d="M230.2 697.2H291.3V715.5A2 2 0 0 1 289.3 717.5H232.2A2 2 0 0 1 230.2 715.5Z" fill="#131722"/>
<text x="236.50" y="713.80" font-size="12" fill="#fff" font-weight="bold" textLength="47.20" lengthAdjust="spacingAndGlyphs" >07-04-2023</text>
<path d="M1135.3 709.9L1138.2 704.4H1144.6L1147.1 709.9L1144.6 715.4H1138.2Z" stroke="#4a4e58" stroke-width="1.1" fill="none" stroke-linejoin="round"/>
<circle cx="1141.3" cy="709.9" r="1.9" stroke="#4a4e58" stroke-width="1.1" fill="none"/>
<rect x="0" y="721" width="1162" height="1" fill="#1e1e1e"/></svg>
</body></html>
